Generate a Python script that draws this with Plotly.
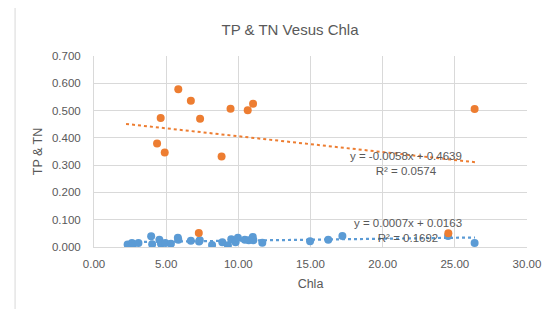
import plotly.graph_objects as go

# Chla (x) and TP (blue) values
tp_chla = [2.33, 2.63, 2.67, 3.08, 3.96, 4.03, 4.53, 4.64, 4.94, 5.33, 5.81, 5.84,
           6.71, 7.28, 7.33, 8.18, 8.89, 9.28, 9.51, 9.81, 9.97, 10.45, 10.72, 11.00,
           11.04, 11.66, 14.97, 16.23, 17.21, 24.53, 26.37]
tp_vals = [0.009, 0.015, 0.003, 0.015, 0.039, 0.010, 0.027, 0.012, 0.015, 0.012, 0.034, 0.027,
           0.023, 0.020, 0.025, 0.007, 0.017, 0.006, 0.028, 0.017, 0.034, 0.027, 0.025, 0.037,
           0.025, 0.016, 0.021, 0.027, 0.040, 0.040, 0.015]

# Chla (x) and TN (orange) values
tn_chla = [5.84, 6.71, 4.62, 7.35, 9.46, 10.65, 11.02, 4.37, 4.90, 8.84, 7.26, 26.37, 24.55]
tn_vals = [0.578, 0.536, 0.473, 0.470, 0.507, 0.501, 0.525, 0.379, 0.346, 0.332, 0.051, 0.506, 0.050]

# trendline coefficients (slope, intercept, R²) as printed on the chart
tp_fit = (0.0007, 0.0163, 0.1692)
tn_fit = (-0.0058, 0.4639, 0.0574)
fit_range = [2.22, 26.4]

x_ticks = [0, 5, 10, 15, 20, 25, 30]
y_ticks = [0, 0.1, 0.2, 0.3, 0.4, 0.5, 0.6, 0.7]

BLUE = "#5B9BD5"
ORANGE = "#ED7D31"
GRID = "#D9D9D9"
TXT = "#595959"
FONT = "Liberation Sans"

# the page body has an 8px default margin; compensate so the figure fills the window
BODY = 8
W, H = 553 - BODY, 309 - BODY

fig = go.Figure()

def line_pts(fit):
    return [fit[0] * x + fit[1] for x in fit_range]

fig.add_trace(go.Scatter(x=fit_range, y=line_pts(tn_fit), mode="lines",
                         line=dict(color=ORANGE, width=2, dash="dot"), showlegend=False, hoverinfo="skip"))
fig.add_trace(go.Scatter(x=fit_range, y=line_pts(tp_fit), mode="lines",
                         line=dict(color=BLUE, width=2.2, dash="dot"), showlegend=False, hoverinfo="skip"))
fig.add_trace(go.Scatter(x=tp_chla, y=tp_vals, mode="markers", name="TP",
                         marker=dict(color=BLUE, size=8), showlegend=False))
fig.add_trace(go.Scatter(x=tn_chla, y=tn_vals, mode="markers", name="TN",
                         marker=dict(color=ORANGE, size=8), showlegend=False))

def eq_text(fit):
    sign = "-" if fit[0] < 0 else ""
    return f"y = {sign}{abs(fit[0]):.4f}x + {fit[1]:.4f}<br>R² = {fit[2]:.4f}"

fig.add_annotation(x=21.6, y=0.306, text=eq_text(tn_fit), showarrow=False,
                   font=dict(family=FONT, size=11.5, color=TXT), align="center")
fig.add_annotation(x=21.74, y=0.059, text=eq_text(tp_fit), showarrow=False,
                   font=dict(family=FONT, size=11.5, color=TXT), align="center")

# chart area border (partially visible)
fig.add_shape(type="line", xref="paper", yref="paper", x0=-0.1823, x1=-0.1823, y0=1.2707, y1=-0.5,
              line=dict(color=GRID, width=1))
fig.add_shape(type="line", xref="paper", yref="paper", x0=-0.1823, x1=1.2, y0=1.2707, y1=1.2707,
              line=dict(color=GRID, width=1))

fig.update_layout(
    width=W, height=H, autosize=False,
    margin=dict(l=93.5 - BODY, r=23.5, t=55.7 - BODY, b=62.3, pad=0),
    paper_bgcolor="white", plot_bgcolor="white",
    font=dict(family=FONT, size=11.5, color=TXT),
    title=dict(text="TP & TN Vesus Chla", x=(290 - BODY) / W, xref="container", xanchor="center",
               y=1 - (30 - BODY) / H, yref="container", yanchor="middle",
               font=dict(family=FONT, size=15, color=TXT)),
    xaxis=dict(range=[0, 30], tickvals=x_ticks, tickformat=".2f", showgrid=True, gridcolor=GRID,
               gridwidth=1, zeroline=False, showline=True, linecolor=GRID, mirror=False,
               ticks="", ticklabelstandoff=6,
               title=dict(text="Chla", font=dict(family=FONT, size=12.5, color=TXT), standoff=10)),
    yaxis=dict(range=[0, 0.7], tickvals=y_ticks, tickformat=".3f", showgrid=True, gridcolor=GRID,
               gridwidth=1, zeroline=False, showline=True, linecolor=GRID,
               ticks="", ticklabelstandoff=10,
               title=dict(text="TP & TN", font=dict(family=FONT, size=12.5, color=TXT), standoff=6)),
)

fig.write_html("out.html")
